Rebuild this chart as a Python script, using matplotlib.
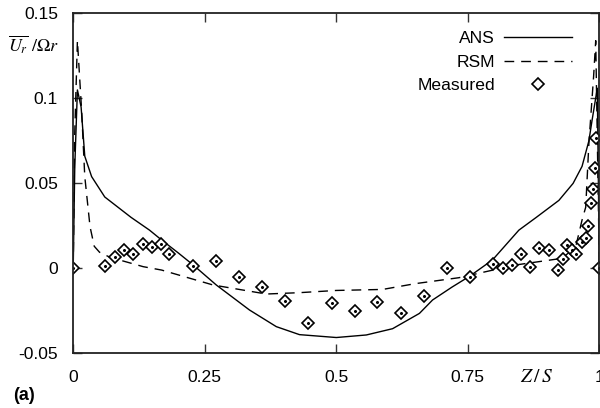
import matplotlib
matplotlib.use("Agg")
import matplotlib.pyplot as plt
from matplotlib.lines import Line2D

plt.rcParams['font.family'] = ['Liberation Sans', 'DejaVu Sans']
plt.rcParams['mathtext.fontset'] = 'stix'

# ANS (solid)
ans_x = [0.0, 0.003, 0.008, 0.015, 0.022, 0.035, 0.06, 0.11, 0.145, 0.168, 0.2, 0.228,
         0.272, 0.335, 0.386, 0.43, 0.5, 0.557, 0.607, 0.658, 0.683, 0.72, 0.754,
         0.797, 0.847, 0.88, 0.923, 0.95, 0.967, 0.98, 0.986, 0.996, 1.0]
ans_y = [0.0, 0.06, 0.105, 0.095, 0.066, 0.054, 0.042, 0.030, 0.0225, 0.0167, 0.009, 0.002,
         -0.0098, -0.0245, -0.0343, -0.039, -0.0407, -0.0392, -0.0355, -0.0265, -0.0186, -0.011, -0.0045,
         0.005, 0.0225, 0.030, 0.040, 0.050, 0.060, 0.075, 0.087, 0.106, 0.0]

# RSM (dashed)
rsm_x = [0.0, 0.003, 0.008, 0.016, 0.022, 0.032, 0.04, 0.05, 0.07, 0.133, 0.168, 0.266,
         0.367, 0.43, 0.5, 0.588, 0.65, 0.733, 0.841, 0.929, 0.955, 0.967, 0.974,
         0.98, 0.989, 0.993, 1.0]
rsm_y = [0.0, 0.08, 0.134, 0.093, 0.054, 0.0245, 0.013, 0.0095, 0.0065, 0.001, -0.001, -0.0098,
         -0.0151, -0.0143, -0.013, -0.0124, -0.009, -0.0055, 0.002, 0.0059, 0.0127, 0.0284, 0.036,
         0.0735, 0.113, 0.134, 0.0]

# Measured
meas_x = [0.0, 0.061, 0.079, 0.097, 0.114, 0.132, 0.149, 0.166, 0.183, 0.228, 0.272, 0.316,
          0.359, 0.403, 0.447, 0.491, 0.536, 0.578, 0.623, 0.666, 0.711, 0.754, 0.798, 0.816,
          0.833, 0.851, 0.869, 0.886, 0.904, 0.922, 0.931, 0.939, 0.948, 0.956, 0.966, 0.975,
          0.979, 0.984, 0.987, 0.991, 0.993, 1.0]
meas_y = [0.0, 0.0015, 0.0068, 0.0108, 0.0084, 0.0143, 0.0124, 0.0143, 0.0084, 0.0015, 0.0045, -0.0049,
          -0.0108, -0.019, -0.0324, -0.0202, -0.0253, -0.0198, -0.0261, -0.0161, 0.0005, -0.0053, 0.0025, 0.0,
          0.002, 0.0084, 0.0006, 0.0121, 0.0108, -0.001, 0.0055, 0.0137, 0.0108, 0.0084, 0.0157, 0.0176,
          0.0249, 0.0386, 0.0465, 0.059, 0.0765, 0.0]

xticks = [0, 0.25, 0.5, 0.75, 1]
xticklabels = ['0', '0.25', '0.5', '0.75', '1']
yticks = [-0.05, 0, 0.05, 0.1, 0.15]
yticklabels = ['-0.05', '0', '0.05', '0.1', '0.15']

FS = 12.6

fig = plt.figure(figsize=(6.0, 4.08), dpi=100)
ax = fig.add_axes([0.122, 0.134, 0.877, 0.833])

ax.plot(ans_x, ans_y, color='black', lw=1.0, label='ANS')
ax.plot(rsm_x, rsm_y, color='black', lw=1.0, dashes=(7, 5), label='RSM')
ax.plot(meas_x, meas_y, ls='none', marker='D', markersize=6, markerfacecolor='white',
        markeredgecolor='black', markeredgewidth=1.2, label='Measured', clip_on=True)
ax.plot(meas_x, meas_y, ls='none', marker='o', markersize=1.2, color='black')

ax.set_xlim(0, 1)
ax.set_ylim(-0.05, 0.15)
ax.set_xticks(xticks)
ax.set_xticklabels(xticklabels)
ax.set_yticks(yticks)
ax.set_yticklabels(yticklabels)
ax.tick_params(direction='in', length=6.5, width=1.0, labelsize=FS, top=True, right=True,
               color='#333333')
ax.tick_params(axis='x', pad=12)
ax.tick_params(axis='y', pad=11)
for s in ax.spines.values():
    s.set_linewidth(1.3)
    s.set_color('#222222')

handles = [Line2D([], [], color='black', lw=1.0),
           Line2D([], [], color='black', lw=1.0, dashes=(7, 5)),
           Line2D([], [], ls='none', marker='D', markersize=6, markerfacecolor='white',
                  markeredgecolor='black', markeredgewidth=1.2)]
leg = ax.legend(handles, ['ANS', 'RSM', 'Measured'], loc='upper right',
                bbox_to_anchor=(572 / 600, 1 - 31 / 408), bbox_transform=fig.transFigure,
                frameon=False, markerfirst=False, fontsize=FS, handlelength=3.9,
                handletextpad=0.5, borderpad=0, borderaxespad=0, labelspacing=0.47)

fig.text(8 / 600, 1 - 45 / 408, r'$\overline{U_r}\ /\Omega r$', fontsize=13, va='center', ha='left')
fig.text(536 / 600, 1 - 378 / 408, r'$Z\,/\,S$', fontsize=14, va='center', ha='center')
fig.text(13 / 600, 1 - 396 / 408, '(a)', fontsize=13, fontweight='bold', va='center', ha='left')

fig.savefig('out.png', dpi=100)
